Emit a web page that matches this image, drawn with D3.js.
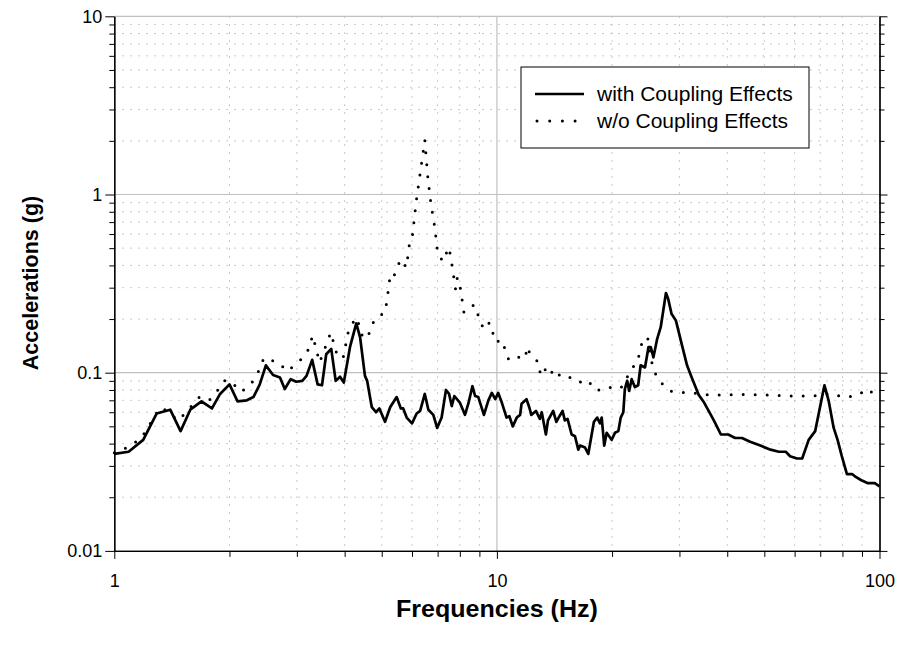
<!DOCTYPE html>
<html><head><meta charset="utf-8">
<script src="https://cdn.jsdelivr.net/npm/d3@7"></script>
<style>body{margin:0;background:#fff;} svg{display:block;font-family:"Liberation Sans",Arial,sans-serif;}</style>
</head><body><svg id="c" width="900" height="645"></svg>
<script>
// ---- data ----
const freqWith=[1,1.09,1.19,1.29,1.40,1.49,1.58,1.69,1.80,1.89,2.0,2.1,2.22,2.31,2.40,2.49,2.60,2.71,2.79,2.89,2.99,3.10,3.18,3.29,3.40,3.49,3.58,3.69,3.79,3.89,3.98,4.13,4.29,4.39,4.52,4.58,4.71,4.83,4.93,5.10,5.26,5.47,5.61,5.69,5.81,6.0,6.17,6.30,6.48,6.62,6.82,6.98,7.17,7.36,7.50,7.62,7.74,8.0,8.25,8.42,8.63,8.77,8.94,9.25,9.50,9.70,9.90,10.08,10.3,10.6,10.78,11.0,11.27,11.5,11.6,11.95,12.15,12.3,12.65,12.95,13.1,13.43,13.6,14.03,14.3,14.5,14.85,15.05,15.3,15.68,16.0,16.32,16.5,17.0,17.33,17.69,17.93,18.29,18.6,18.79,19.08,19.36,19.94,20.35,20.77,21.07,21.4,21.6,21.9,22.17,22.5,22.95,23.4,23.75,24.38,24.9,25.25,25.65,26.24,26.8,27.66,28.03,28.6,29.37,30.4,31.4,32.3,33.7,34.8,36.9,38.5,40.25,41.95,43.7,45.9,48.8,51.9,54.6,56.9,58.4,60.8,62.8,65.3,67.9,69.9,71.8,73.6,75.9,77.7,79.7,82.2,84.8,86.7,89.4,93.3,97.2,100];
const accWith=[0.035,0.036,0.042,0.059,0.062,0.047,0.062,0.069,0.063,0.076,0.086,0.069,0.070,0.073,0.086,0.110,0.097,0.094,0.081,0.092,0.089,0.090,0.096,0.118,0.086,0.085,0.127,0.136,0.090,0.095,0.088,0.139,0.189,0.158,0.096,0.090,0.064,0.060,0.063,0.053,0.064,0.073,0.063,0.063,0.056,0.052,0.059,0.061,0.076,0.062,0.058,0.049,0.056,0.080,0.076,0.065,0.074,0.068,0.058,0.067,0.084,0.074,0.073,0.058,0.070,0.077,0.071,0.077,0.068,0.056,0.057,0.050,0.056,0.058,0.067,0.071,0.064,0.058,0.061,0.055,0.060,0.045,0.054,0.061,0.053,0.056,0.061,0.054,0.055,0.045,0.044,0.037,0.039,0.038,0.035,0.045,0.053,0.056,0.052,0.056,0.039,0.046,0.042,0.046,0.047,0.056,0.060,0.081,0.090,0.079,0.092,0.083,0.085,0.110,0.107,0.139,0.139,0.122,0.155,0.180,0.280,0.260,0.214,0.196,0.145,0.110,0.094,0.075,0.068,0.054,0.045,0.045,0.043,0.043,0.041,0.039,0.037,0.036,0.036,0.034,0.033,0.033,0.042,0.047,0.064,0.085,0.070,0.049,0.042,0.034,0.027,0.027,0.026,0.025,0.024,0.024,0.023];
const freqWithout=[1,1.08,1.16,1.22,1.27,1.33,1.47,1.55,1.67,1.77,1.85,1.95,2.04,2.15,2.29,2.39,2.46,2.55,2.69,2.83,3.05,3.21,3.30,3.44,3.68,3.84,3.97,4.10,4.29,4.37,4.47,4.66,4.78,5.10,5.16,5.26,5.36,5.60,5.80,5.91,6.00,6.15,6.28,6.48,6.60,6.72,6.88,7.00,7.22,7.49,7.60,7.80,7.88,8.03,8.20,8.72,9.23,9.56,9.94,10.3,10.74,11.2,11.85,12.0,12.2,12.7,12.95,13.2,13.6,14.2,14.7,15.5,16.3,17.3,18.0,19.2,20.3,21.2,22.6,23.3,24.1,24.8,25.6,26.7,28.3,30.6,33.2,35.6,38.4,44.3,51.5,59.2,67.4,74.5,80.3,86.7,93.3,97.7,100];
const accWithout=[0.0355,0.038,0.042,0.048,0.057,0.064,0.054,0.061,0.073,0.070,0.078,0.091,0.087,0.078,0.088,0.103,0.121,0.118,0.114,0.102,0.116,0.134,0.162,0.114,0.168,0.121,0.123,0.175,0.204,0.184,0.155,0.168,0.199,0.218,0.254,0.351,0.342,0.432,0.390,0.532,0.560,0.905,1.25,2.02,1.24,0.893,0.655,0.473,0.421,0.505,0.427,0.293,0.342,0.297,0.218,0.241,0.175,0.191,0.148,0.153,0.118,0.123,0.120,0.140,0.128,0.118,0.101,0.110,0.096,0.105,0.094,0.094,0.088,0.091,0.080,0.080,0.085,0.083,0.1065,0.115,0.157,0.155,0.104,0.089,0.079,0.0775,0.0766,0.075,0.075,0.0755,0.075,0.074,0.074,0.0765,0.073,0.074,0.081,0.074,0.075];
const xTickValues=[1,10,100];
const xTickLabels=["1","10","100"];
const yTickValues=[0.01,0.1,1,10];
const yTickLabels=["0.01","0.1","1","10"];
const seriesNames=["with Coupling Effects","w/o Coupling Effects"];
const xTitle="Frequencies (Hz)";
const yTitle="Accelerations (g)";

// ---- layout ----
const W=900,H=645;
const L=114.3,R=879.5,T=16.3,B=550.9;
const x=d3.scaleLog().domain([1,100]).range([L,R]);
const y=d3.scaleLog().domain([0.01,10]).range([B,T]);
const svg=d3.select('#c');
svg.append('rect').attr('width',W).attr('height',H).attr('fill','#fff');

const minorX=[];[1,10].forEach(d=>{for(let k=2;k<10;k++)minorX.push(k*d);});
const minorY=[];[0.01,0.1,1].forEach(d=>{for(let k=2;k<10;k++)minorY.push(+(k*d).toPrecision(3));});

const grid=svg.append('g');
grid.selectAll('.mgx').data(minorX).join('line')
  .attr('x1',d=>x(d)).attr('x2',d=>x(d)).attr('y1',T).attr('y2',B)
  .attr('stroke','#b8b8b8').attr('stroke-width',1).attr('stroke-dasharray','1.5,6.5');
grid.selectAll('.mgy').data(minorY).join('line')
  .attr('x1',L).attr('x2',R).attr('y1',d=>y(d)).attr('y2',d=>y(d))
  .attr('stroke','#b8b8b8').attr('stroke-width',1).attr('stroke-dasharray','1.5,6.5');
grid.selectAll('.Mgx').data([10]).join('line')
  .attr('x1',d=>x(d)).attr('x2',d=>x(d)).attr('y1',T).attr('y2',B)
  .attr('stroke','#c0c0c0').attr('stroke-width',1.2);
grid.selectAll('.Mgy').data([0.1,1,10]).join('line')
  .attr('x1',L).attr('x2',R).attr('y1',d=>y(d)).attr('y2',d=>y(d))
  .attr('stroke','#c0c0c0').attr('stroke-width',1.2);

// ---- axes ----
function styleAxis(g){g.select('.domain').attr('stroke','#000').attr('stroke-width',1.2);g.selectAll('.tick line').attr('stroke','#000').attr('stroke-width',1);}
const FONT='"Liberation Sans",Arial,sans-serif';
// left
svg.append('g').attr('transform',`translate(${L},0)`)
  .call(d3.axisLeft(y).tickValues(minorY).tickSize(5).tickFormat('').tickSizeOuter(0)).call(styleAxis);
svg.append('g').attr('transform',`translate(${L},0)`)
  .call(d3.axisLeft(y).tickValues(yTickValues).tickSize(9).tickPadding(3).tickSizeOuter(0)
    .tickFormat((d,i)=>yTickLabels[i])).call(styleAxis)
  .call(g=>g.selectAll('text').attr('font-size',18).attr('fill','#000').attr('font-family',FONT));
// right
svg.append('g').attr('transform',`translate(${R},0)`)
  .call(d3.axisRight(y).tickValues(minorY).tickSize(5).tickFormat('').tickSizeOuter(0)).call(styleAxis);
svg.append('g').attr('transform',`translate(${R},0)`)
  .call(d3.axisRight(y).tickValues(yTickValues).tickSize(8).tickFormat('').tickSizeOuter(0)).call(styleAxis);
// bottom
svg.append('g').attr('transform',`translate(0,${B})`)
  .call(d3.axisBottom(x).tickValues(minorX).tickSize(6).tickFormat('').tickSizeOuter(0)).call(styleAxis);
svg.append('g').attr('transform',`translate(0,${B})`)
  .call(d3.axisBottom(x).tickValues(xTickValues).tickSize(8).tickPadding(15).tickSizeOuter(0)
    .tickFormat((d,i)=>xTickLabels[i])).call(styleAxis)
  .call(g=>g.selectAll('text').attr('font-size',18).attr('fill','#000').attr('font-family',FONT));

// ---- series ----
const line=d3.line().x(d=>x(d[0])).y(d=>y(d[1]));
const dataWith=freqWith.map((f,i)=>[f,accWith[i]]);
const dataWithout=freqWithout.map((f,i)=>[f,accWithout[i]]);
svg.append('path').datum(dataWithout).attr('d',line).attr('fill','none')
  .attr('stroke','#000').attr('stroke-width',3).attr('stroke-linecap','round')
  .attr('stroke-dasharray','0,12');
svg.append('path').datum(dataWith).attr('d',line).attr('fill','none')
  .attr('stroke','#000').attr('stroke-width',2.7).attr('stroke-linejoin','round');

// ---- legend ----
const lg=svg.append('g');
lg.append('rect').attr('x',521).attr('y',67).attr('width',288).attr('height',81)
  .attr('fill','#fff').attr('stroke','#000').attr('stroke-width',1);
lg.append('line').attr('x1',535).attr('x2',584).attr('y1',94).attr('y2',94)
  .attr('stroke','#000').attr('stroke-width',2.7);
lg.append('line').attr('x1',537).attr('x2',584).attr('y1',121).attr('y2',121)
  .attr('stroke','#000').attr('stroke-width',3).attr('stroke-linecap','round').attr('stroke-dasharray','0,12.7');
lg.selectAll('text').data(seriesNames).join('text')
  .attr('x',597).attr('y',(d,i)=>101+i*27).attr('font-size',21).attr('fill','#000').text(d=>d);

// ---- titles ----
svg.append('text').attr('transform',`translate(${(L+R)/2},617) scale(1.09,1)`).attr('text-anchor','middle')
  .attr('font-size',23).attr('font-weight','bold').text(xTitle);
svg.append('text').attr('transform','translate(38,283) rotate(-90)').attr('text-anchor','middle')
  .attr('font-size',21.5).attr('font-weight','bold').text(yTitle);
</script></body></html>
